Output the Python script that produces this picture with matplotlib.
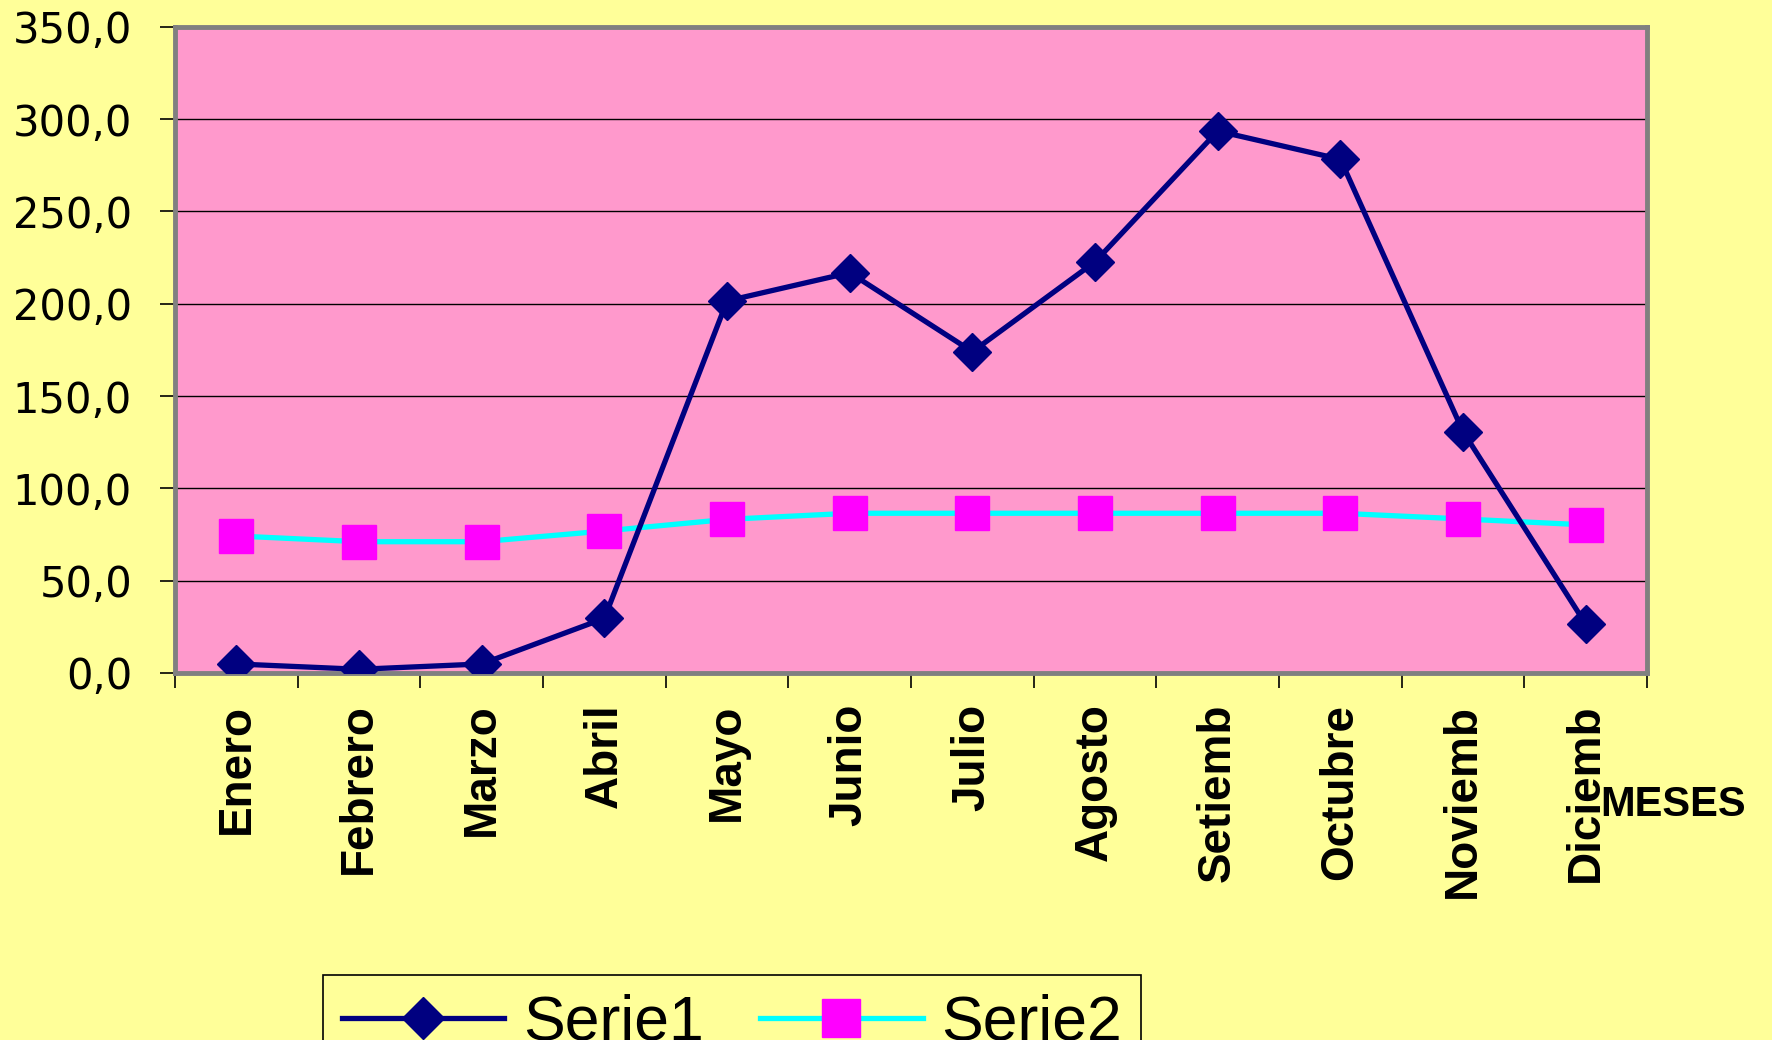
import matplotlib.pyplot as plt
import numpy as np

# Datos
meses = ['Enero', 'Febrero', 'Marzo', 'Abril', 'Mayo', 'Junio', 'Julio',
         'Agosto', 'Setiemb', 'Octubre', 'Noviemb', 'Diciemb']
serie1 = [4.9, 2.0, 4.9, 29.6, 201.5, 216.8, 174.0, 222.7, 293.5, 278.2, 130.7, 26.5]
serie2 = [74.2, 71.1, 71.1, 76.9, 83.2, 86.5, 86.5, 86.5, 86.5, 86.5, 83.4, 80.2]
yticks = [0, 50, 100, 150, 200, 250, 300, 350]

fondo = '#FFFF99'
area = '#FF99CC'

fig = plt.figure(figsize=(17.72, 10.40), dpi=100, facecolor=fondo)
ax = fig.add_axes([0.0988, 0.3529, 0.8307, 0.6214], facecolor=area)

x = np.arange(len(meses))
ax.plot(x, serie1, color='#000080', lw=3.8, marker='D', ms=19,
        mfc='#000080', mec='#000080', label='Serie1', zorder=3)
ax.plot(x, serie2, color='#00FFFF', lw=3.8, marker='s', ms=24,
        mfc='#FF00FF', mec='#FF00FF', label='Serie2', zorder=2)

ax.set_xlim(-0.5, len(meses) - 0.5)
ax.set_ylim(0, 350)

# Eje Y
ax.set_yticks(yticks)
ax.set_yticklabels([f'{v:.1f}'.replace('.', ',') for v in yticks],
                   fontsize=30, family='DejaVu Sans')
ax.tick_params(axis='y', length=11, width=1.2, color='black', pad=20)
for v in yticks[1:-1]:
    ax.axhline(v, color='black', lw=1, zorder=1)

# Eje X: marcas entre categorias, etiquetas en el centro
ax.set_xticks(x)
ax.set_xticklabels(meses, rotation=90, fontsize=33, fontweight='bold',
                   family='Liberation Sans')
ax.set_xticks(np.arange(-0.5, len(meses)), minor=True)
ax.tick_params(axis='x', which='major', length=0, pad=22)
ax.tick_params(axis='x', which='minor', length=11, width=1.2, color='black')

for s in ax.spines.values():
    s.set_color('#808080')
    s.set_linewidth(3.5)

fig.text(1600 / 1772, 1 - 805 / 1040, 'MESES', fontsize=30, fontweight='bold',
         family='Liberation Sans', va='center', ha='left')

leg = fig.legend(loc='upper left', bbox_to_anchor=(323 / 1772, 1 - 975 / 1040),
                 ncol=2, prop={'family': 'Liberation Sans', 'size': 45},
                 frameon=True, facecolor=fondo, edgecolor='black', fancybox=False,
                 handlelength=2.6, handletextpad=0.3, columnspacing=0.9,
                 borderpad=0.3, borderaxespad=0, markerscale=1.15)
leg.get_frame().set_linewidth(1.2)
leg.get_frame().set_alpha(None)

fig.savefig('out.png', dpi=100, facecolor=fondo)
